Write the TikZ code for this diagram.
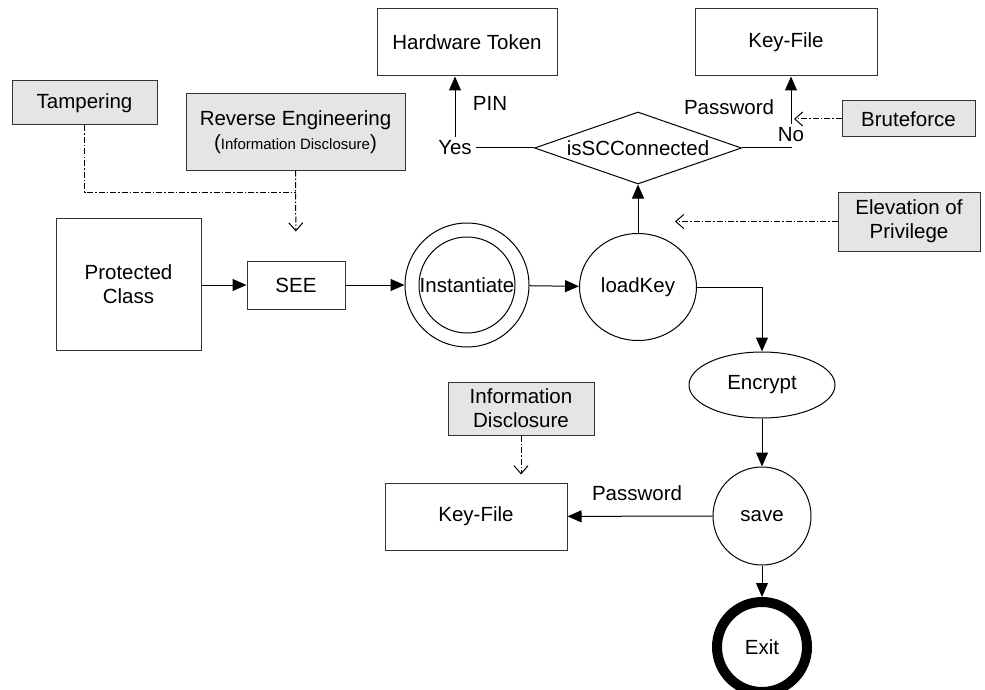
\documentclass[tikz,border=0pt]{standalone}
\usepackage{fontspec}
\setmainfont{Liberation Sans}
\usetikzlibrary{shapes.geometric,arrows.meta}

\newcommand\smallsize{\fontsize{15}{17}\selectfont}

\tikzset{
  box/.style={draw=black!80, rectangle, inner sep=0pt, align=center},
  threat/.style={box, fill=black!10},
  blob/.style={draw, ellipse, inner sep=0pt},
  flow/.style={-{Triangle[length=14pt,width=12pt]}},
  attackline/.style={dash pattern=on 6pt off 2pt on 1.5pt off 2pt},
  attack/.style={attackline, -{Straight Barb[length=8pt,width=14pt,line width=1pt]}},
}

\begin{document}
\begin{tikzpicture}[x=1pt, y=-1pt, line width=1pt, font=\fontsize{20.5}{24}\selectfont]
            \useasboundingbox (0,0) rectangle (985,690);
            %Nodes
            \node[threat, minimum width=145pt, minimum height=44pt] at (84.5,103) (tamp) {Tampering};
            \node[threat, minimum width=219pt, minimum height=76pt] at (295.5,132) (reveng) {Reverse Engineering\\({\smallsize Information Disclosure})};
            \node[box, minimum width=180pt, minimum height=67pt] at (467,42.5) (token) {Hardware Token};
            \node[box, minimum width=182pt, minimum height=67pt] at (786,42.5) (keyup) {Key-File};
            \node[diamond, draw, aspect=2.875, minimum width=207pt, minimum height=72pt, inner sep=0pt] at (638,148) (iscon) {isSCConnected};
            \node at (455,148) (yes) {Yes};
            \node at (490,103) (pin) {PIN};
            \node at (791,135) (no) {No};
            \node at (729,107) (pwup) {Password};
            \coordinate (nocorner) at (792,148);
            \node[threat, minimum width=133pt, minimum height=36pt] at (908.5,119) (brute) {Bruteforce};
            \node[threat, minimum width=142pt, minimum height=59pt] at (909,221.5) (elev) {Elevation of\\Privilege};
            \node[box, minimum width=145pt, minimum height=132pt] at (128.5,284) (pclass) {Protected\\Class};
            \node[box, minimum width=98pt, minimum height=48pt] at (296,285) (see) {SEE};
            \node[circle, draw, minimum size=124pt] at (467,285) (inst) {};
            \node[circle, draw, minimum size=96pt, inner sep=0pt] at (467,285) (instin) {Instantiate};
            \node[blob, minimum width=117pt, minimum height=107pt] at (638,287) (load) {loadKey};
            \node[blob, minimum width=146pt, minimum height=66pt] at (762,385) (enc) {Encrypt};
            \node[circle, draw, minimum size=98pt] at (762,516) (save) {save};
            \node[threat, minimum width=146pt, minimum height=53pt] at (521,408.5) (infodis) {Information\\Disclosure};
            \node[box, minimum width=182pt, minimum height=67pt] at (476,516.5) (keydown) {Key-File};
            \node at (637,493) (pwdown) {Password};
            \node[circle, draw, line width=10pt, minimum size=90pt] at (762,647) (exit) {Exit};
            \coordinate (tampjoin) at (295.5,192);

            %Lines
            \draw[attackline] (tamp.south) |- (tampjoin);
            \draw[attack, shorten >=29pt] (reveng.south) -- (see.north);
            \draw[flow] (pclass.east |- see) -- (see.west);
            \draw[flow] (see) -- (inst);
            \draw[flow] (inst) -- (load);
            \draw[flow] (load) -- (iscon);
            \draw (yes) -- (iscon);
            \draw[flow] (yes.north) -- (yes.north |- token.south);
            \draw (iscon.east) -- (nocorner);
            \draw[flow] (no.north) -- (no.north |- keyup.south);
            \draw[attack, shorten >=3pt] (brute.west) -- (brute.west -| no.north);
            \draw[attack, shorten >=37pt] (elev.west) -- (elev.west -| load.north);
            \draw[flow] (load.east) -| (enc.north);
            \draw[flow] (enc) -- (save);
            \draw[flow] (save) -- (keydown);
            \draw[attack, shorten >=8pt] (infodis.south) -- (infodis.south |- keydown.north);
            \draw[flow] (save) -- (exit);
\end{tikzpicture}
\end{document}
